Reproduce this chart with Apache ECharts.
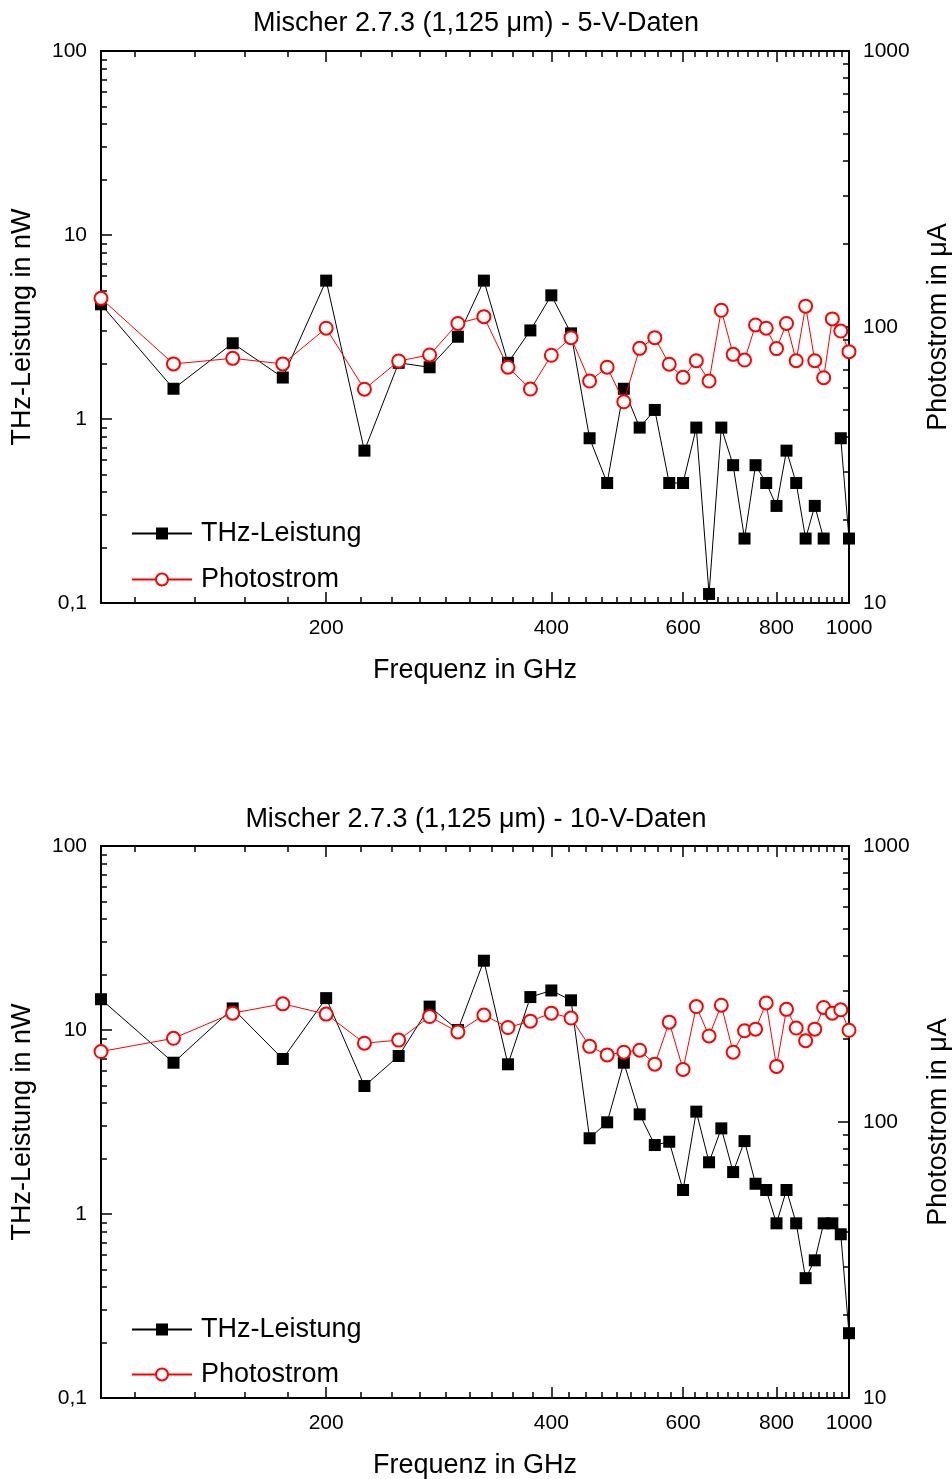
<!DOCTYPE html>
<html>
<head>
<meta charset="utf-8">
<title>Mischer 2.7.3</title>
<script src="https://cdn.jsdelivr.net/npm/echarts@6/dist/echarts.min.js"></script>
<style>
html, body { margin: 0; padding: 0; background: #fff; }
#chart { width: 952px; height: 1479px; }
</style>
</head>
<body>
<div id="chart"></div>
<script>
// frequencies in GHz
var freq = [100, 125, 150, 175, 200, 225, 250, 275, 300, 325, 350, 375, 400, 425, 450, 475, 500, 525, 550,
            575, 600, 625, 650, 675, 700, 725, 750, 775, 800, 825, 850, 875, 900, 925, 950, 975, 1000];

// 5 V: THz power (nW) and photocurrent (uA)
var thz5 = [4.2, 1.46, 2.58, 1.68, 5.65, 0.673, 2.02, 1.91, 2.8, 5.65, 2.02, 3.03, 4.7, 2.92, 0.786, 0.449, 1.46, 0.898, 1.12,
            0.449, 0.449, 0.898, 0.112, 0.898, 0.561, 0.224, 0.561, 0.449, 0.337, 0.673, 0.449, 0.224, 0.337, 0.224, null, 0.786, 0.224];
var photo5 = [127, 73.5, 77, 73.5, 99, 59.5, 75.3, 79.2, 103, 109, 71.5, 59.6, 79, 91.5, 63.7, 71.5, 53.6, 83.7, 91.5,
              73.3, 65.7, 75.5, 63.7, 115, 79.6, 75.9, 101.7, 99, 83.5, 103, 75.5, 119, 75.5, 65.5, 107, 96.7, 81.4];

// 10 V
var thz10 = [14.7, 6.64, 13.1, 6.96, 14.9, 4.96, 7.22, 13.4, 10.0, 23.8, 6.51, 15.1, 16.4, 14.5, 2.58, 3.15, 6.64, 3.48, 2.37,
             2.47, 1.35, 3.6, 1.91, 2.92, 1.69, 2.49, 1.46, 1.35, 0.89, 1.35, 0.89, 0.448, 0.56, 0.89, 0.89, 0.776, 0.225];
var photo10 = [180, 201, 248, 268, 246, 193, 198, 241, 212, 244, 220, 232, 248, 238, 188, 175, 179, 182, 162,
               230, 155, 262, 205, 265, 179, 214, 217, 270, 159, 256, 219, 197, 217, 260, 248, 255, 215];

var xLabels = [200, 400, 600, 800, 1000];
var leftLabels = [0.1, 1, 10, 100];
var rightLabels = [10, 100, 1000];

var titles = ['Mischer 2.7.3 (1,125 \u03bcm) - 5-V-Daten', 'Mischer 2.7.3 (1,125 \u03bcm) - 10-V-Daten'];
var xName = 'Frequenz in GHz';
var leftName = 'THz-Leistung in nW';
var rightName = 'Photostrom in \u03bcA';

var FONT = '"Liberation Sans", Arial, sans-serif';

function lg(v) { return Math.round(Math.log10(v) * 1e9) / 1e9; }

// minor ticks: x in steps of 200/9 between majors, y per decade 2..9
var xMinor = [];
for (var k = 5; k < 45; k++) { if (k % 9 !== 0) xMinor.push(lg(k * 200 / 9)); }
function decadeMinor(lo, hi) {
    var out = [];
    for (var d = lo; d < hi; d++) {
        for (var m = 2; m <= 9; m++) out.push(lg(m * Math.pow(10, d)));
    }
    return out;
}
var leftMinor = decadeMinor(-1, 2);
var rightMinor = decadeMinor(1, 3);

function pairs(vals) {
    return freq.map(function (f, i) { return [lg(f), vals[i] == null ? '-' : lg(vals[i])]; });
}

var lineBlack = { color: '#000', width: 2 };
var tickStyle = { color: '#000', width: 1.5 };
var labelBase = { color: '#000', fontSize: 21, fontFamily: FONT, margin: 14 };
var nameStyle = { color: '#000', fontSize: 27, fontFamily: FONT };

function fmtX(v) { return String(Math.round(Math.pow(10, v))); }
function fmtY(v) {
    var n = Math.pow(10, v);
    if (n < 1) return String(Math.round(n * 10) / 10).replace('.', ',');
    return String(Math.round(n));
}

function xAxesFor(g) {
    var base = { gridIndex: g, type: 'value', min: 2, max: 3,
        axisLine: { onZero: false, lineStyle: lineBlack }, splitLine: { show: false } };
    var maj = xLabels.map(lg);
    return [
        Object.assign({}, base, { position: 'bottom', name: xName, nameLocation: 'middle', nameGap: 54,
            nameTextStyle: nameStyle,
            axisTick: { inside: true, length: 11, customValues: maj, lineStyle: tickStyle },
            axisLabel: Object.assign({ customValues: maj, formatter: fmtX }, labelBase, { margin: 15 }) }),
        Object.assign({}, base, { position: 'bottom',
            axisTick: { inside: true, length: 6, customValues: xMinor, lineStyle: tickStyle },
            axisLabel: { show: false } }),
        Object.assign({}, base, { position: 'top',
            axisTick: { inside: true, length: 11, customValues: maj, lineStyle: tickStyle },
            axisLabel: { show: false } }),
        Object.assign({}, base, { position: 'top',
            axisTick: { inside: true, length: 6, customValues: xMinor, lineStyle: tickStyle },
            axisLabel: { show: false } })
    ];
}

function yAxesFor(g) {
    var lb = { gridIndex: g, type: 'value', min: -1, max: 2, position: 'left',
        axisLine: { onZero: false, lineStyle: lineBlack }, splitLine: { show: false } };
    var rb = { gridIndex: g, type: 'value', min: 1, max: 3, position: 'right',
        axisLine: { onZero: false, lineStyle: lineBlack }, splitLine: { show: false } };
    var lmaj = leftLabels.map(lg), rmaj = rightLabels.map(lg);
    return [
        Object.assign({}, lb, { name: leftName, nameLocation: 'middle', nameGap: 65, nameRotate: 90,
            nameTextStyle: nameStyle,
            axisTick: { inside: true, length: 11, customValues: lmaj, lineStyle: tickStyle },
            axisLabel: Object.assign({ customValues: lmaj, formatter: fmtY }, labelBase) }),
        Object.assign({}, lb, {
            axisTick: { inside: true, length: 6, customValues: leftMinor, lineStyle: tickStyle },
            axisLabel: { show: false } }),
        Object.assign({}, rb, { name: rightName, nameLocation: 'middle', nameGap: 76, nameRotate: 90,
            nameTextStyle: nameStyle,
            axisTick: { inside: true, length: 11, customValues: rmaj, lineStyle: tickStyle },
            axisLabel: Object.assign({ customValues: rmaj, formatter: fmtY }, labelBase) }),
        Object.assign({}, rb, {
            axisTick: { inside: true, length: 6, customValues: rightMinor, lineStyle: tickStyle },
            axisLabel: { show: false } })
    ];
}

function seriesFor(g, thz, photo) {
    return [
        { type: 'line', name: 'THz-Leistung', xAxisIndex: g * 4, yAxisIndex: g * 4,
          data: pairs(thz), symbol: 'rect', symbolSize: 12,
          itemStyle: { color: '#000' }, lineStyle: { color: '#000', width: 1 }, z: 3 },
        { type: 'line', name: 'Photostrom', xAxisIndex: g * 4, yAxisIndex: g * 4 + 2,
          data: pairs(photo), symbol: 'emptyCircle', symbolSize: 13,
          itemStyle: { color: '#ff0000', borderWidth: 1.2 }, lineStyle: { color: '#ff0000', width: 1 }, z: 4 }
    ];
}

function legendAt(name, top) {
    return { data: [name], left: 131, top: top, padding: 0, itemWidth: 60, itemHeight: 15,
        selectedMode: false, textStyle: { color: '#000', fontSize: 27, fontFamily: FONT, padding: [0, 0, 0, 4] } };
}

var chart = echarts.init(document.getElementById('chart'), null, { renderer: 'canvas' });
var option = {
    animation: false,
    backgroundColor: '#fff',
    title: titles.map(function (t, i) {
        return { text: t, left: 'center', top: i === 0 ? 10 : 806, padding: 0,
            textStyle: { color: '#000', fontSize: 27, fontWeight: 'normal', fontFamily: FONT } };
    }),
    legend: [
        legendAt('THz-Leistung', 520), legendAt('Photostrom', 566),
        legendAt('THz-Leistung', 1316), legendAt('Photostrom', 1361)
    ],
    grid: [
        { left: 101, top: 51, width: 748, height: 552, outerBoundsMode: 'none', containLabel: false },
        { left: 101, top: 846, width: 748, height: 552, outerBoundsMode: 'none', containLabel: false }
    ],
    xAxis: xAxesFor(0).concat(xAxesFor(1)),
    yAxis: yAxesFor(0).concat(yAxesFor(1)),
    series: seriesFor(0, thz5, photo5).concat(seriesFor(1, thz10, photo10))
};
chart.setOption(option);
</script>
</body>
</html>
